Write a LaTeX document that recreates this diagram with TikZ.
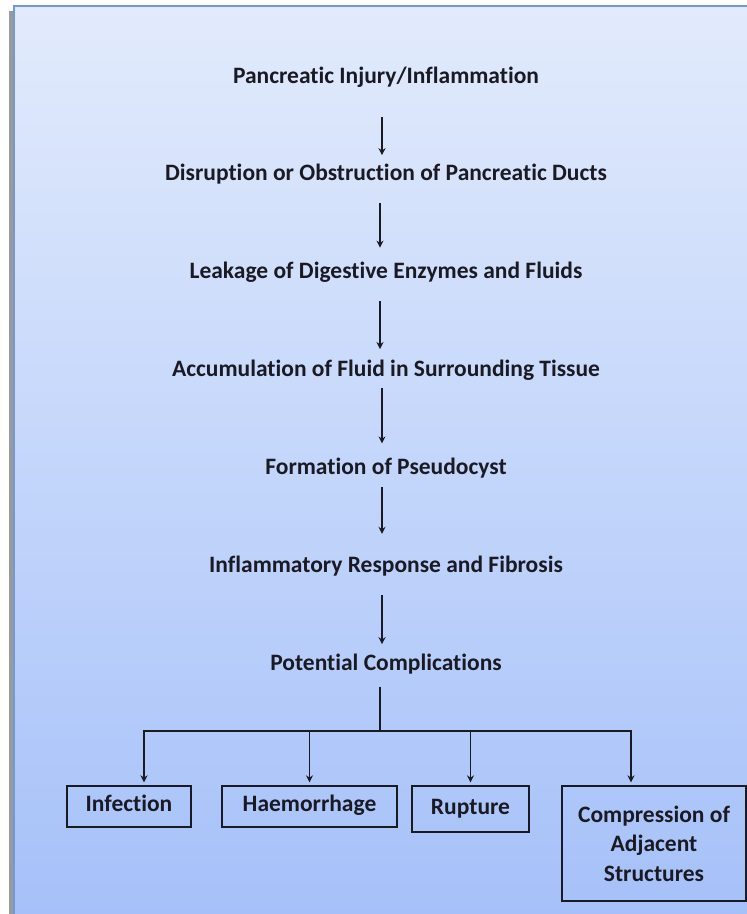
\documentclass[tikz,border=0pt]{standalone}
\usepackage{fontspec}
\setmainfont{Carlito}[Ligatures=NoCommon]
\usetikzlibrary{arrows.meta,positioning,calc}
\definecolor{frameblue}{HTML}{7099D6}
\definecolor{skytop}{HTML}{E2EBFC}
\definecolor{skybot}{HTML}{A6C1F9}
\definecolor{shadowgray}{HTML}{9A9A9A}
\definecolor{inkdark}{HTML}{1A1A24}

\begin{document}
\begin{tikzpicture}[x=1pt,y=-1pt,
  node distance=77.5pt,
  lbl/.style={font=\bfseries\fontsize{23.5}{28}\selectfont,text=inkdark,inner sep=0pt,
    text height=15pt,text depth=5pt},
  cbox/.style={draw=inkdark,line width=1.4pt,align=center,inner sep=0pt,
    font=\bfseries\fontsize{23.5}{29.5}\selectfont,text=inkdark},
  onebox/.style={cbox,text height=15pt,text depth=5pt},
  arr/.style={-{Stealth[length=7pt,width=7pt]},line width=1.3pt,inkdark}]
\useasboundingbox (0,0) rectangle (747,914);
% frame with soft blue fill
\fill[shadowgray] (9,11) rectangle (14,914);
\shade[top color=skytop,bottom color=skybot] (14,6) rectangle (747,914);
\draw[frameblue,line width=2pt] (14,914) -- (14,6) -- (747,6);
% main chain
\node[lbl] (inj) at (386,78) {Pancreatic Injury/Inflammation};
\node[lbl,below=of inj] (duct) {Disruption or Obstruction of Pancreatic Ducts};
\node[lbl,below=of duct] (leak) {Leakage of Digestive Enzymes and Fluids};
\node[lbl,below=of leak] (fluid) {Accumulation of Fluid in Surrounding Tissue};
\node[lbl,below=of fluid] (cyst) {Formation of Pseudocyst};
\node[lbl,below=of cyst] (fib) {Inflammatory Response and Fibrosis};
\node[lbl,below=of fib] (cmpl) {Potential Complications};
\draw[arr,shorten <=29pt,shorten >=10.5pt] ([xshift=-4pt]inj.south) -- ([xshift=-4pt]duct.north);
\draw[arr,shorten <=16.5pt,shorten >=16pt] ([xshift=-6pt]duct.south) -- ([xshift=-6pt]leak.north);
\draw[arr,shorten <=17pt,shorten >=12.5pt] ([xshift=-6pt]leak.south) -- ([xshift=-6pt]fluid.north);
\draw[arr,shorten <=6.5pt,shorten >=16pt] ([xshift=-4pt]fluid.south) -- ([xshift=-4pt]cyst.north);
\draw[arr,shorten <=7pt,shorten >=23.5pt] ([xshift=-4pt]cyst.south) -- ([xshift=-4pt]fib.north);
\draw[arr,shorten <=17.5pt,shorten >=11pt] ([xshift=-4pt]fib.south) -- ([xshift=-4pt]cmpl.north);
% complications
\node[onebox,minimum width=124pt,minimum height=41pt] (infec) at (129,806.5) {Infection};
\node[onebox,minimum width=175pt,minimum height=41pt] (haem) at (309.5,806.5) {Haemorrhage};
\node[onebox,minimum width=117pt,minimum height=46pt] (rupt) at (470.5,809) {Rupture};
\node[cbox,minimum width=184pt,minimum height=115pt] (compr) at (654,843.5)
  {Compression of\\Adjacent\\Structures};
\coordinate (fork) at (380,731);
\draw[line width=1.3pt,inkdark,shorten <=11pt] ([xshift=-6pt]cmpl.south) -- (fork);
\draw[arr,shorten >=3pt] (fork) -| ([xshift=15pt]infec.north);
\draw[arr,shorten >=3pt] (fork) -| (haem.north);
\draw[arr,shorten >=3pt] (fork) -| (rupt.north);
\draw[arr,shorten >=3pt] (fork) -| ([xshift=-23pt]compr.north);
\end{tikzpicture}
\end{document}
